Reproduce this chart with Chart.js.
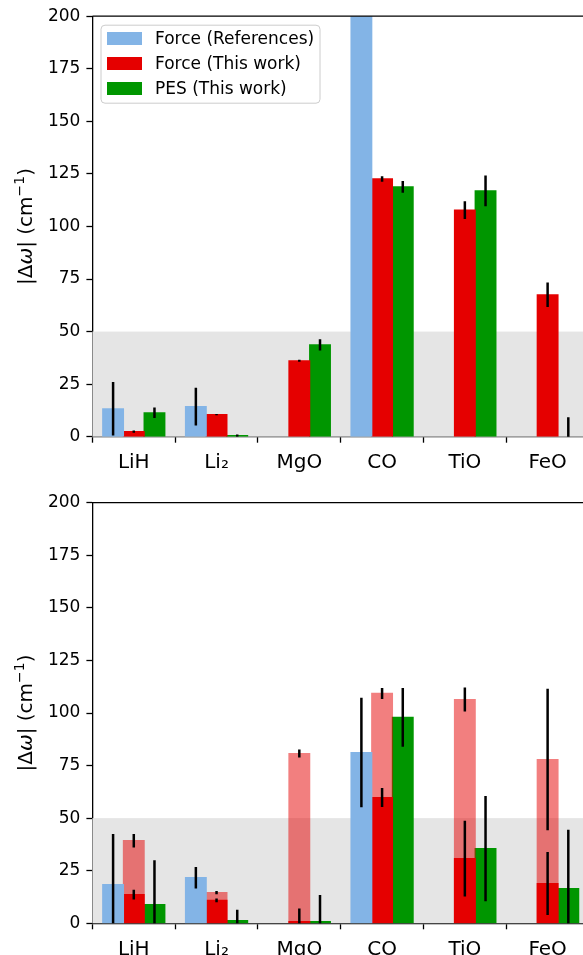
<!DOCTYPE html>
<html>
<head>
<meta charset="utf-8">
<script src="https://cdn.jsdelivr.net/npm/chart.js@4"></script>
<style>
  html, body { margin: 0; padding: 0; background: #fff; overflow: hidden; width: 583px; height: 955px; }
  canvas { display: block; }
</style>
</head>
<body>
<canvas id="topChart" width="589" height="478"></canvas>
<canvas id="bottomChart" width="589" height="477"></canvas>
<script>
const categories = ['LiH', 'Li\u2082', 'MgO', 'CO', 'TiO', 'FeO'];
const yTicks = [0, 25, 50, 75, 100, 125, 150, 175, 200];

// top panel (null = no bar; an error with a null value is centred on 0)
const topRefVals   = [13.3, 14.3, null, 260, null, null];
const topRefErr    = [12.7, 9.0, null, null, null, null];
const topForceVals = [2.4, 10.5, 36.1, 122.6, 107.8, 67.5];
const topForceErr  = [0.5, 0.3, 0.5, 1.3, 4.2, 5.8];
const topPesVals   = [11.4, 0.5, 43.7, 118.8, 116.9, null];
const topPesErr    = [2.5, 0.5, 2.7, 2.8, 7.3, 9.3];

// bottom panel
const botRefVals      = [18.4, 21.7, null, 81.2, null, null];
const botRefErr       = [24.1, 5.1, null, 26.0, null, null];
const botForceVals    = [13.6, 10.9, 0.8, 59.8, 30.8, 18.9];
const botForceErr     = [2.3, 0.9, 6.2, 4.5, 18.0, 15.0];
const botForceAllVals = [39.3, 14.6, 80.7, 109.3, 106.4, 77.9];
const botForceAllErr  = [3.2, 0.8, 1.9, 2.6, 5.7, 33.6];
const botPesVals      = [8.9, 1.3, 0.8, 97.9, 35.5, 16.5];
const botPesErr       = [21.1, 5.2, 12.7, 14.0, 25.0, 28.0];

const blue = '#83b4e6', red = '#e50000', redLight = 'rgba(229,0,0,0.5)', green = '#009600';

Chart.defaults.font.family = "'DejaVu Sans', sans-serif";
Chart.defaults.color = '#000';

// shaded 0-50 band behind the bars
const band = {
  id: 'band',
  beforeDatasetsDraw(chart) {
    const {ctx, chartArea: a, scales: {y}} = chart;
    ctx.save();
    ctx.fillStyle = '#e5e5e5';
    const yTop = y.getPixelForValue(50);
    ctx.fillRect(a.left, yTop, a.right - a.left, y.getPixelForValue(0) - yTop);
    ctx.restore();
  }
};

const errorBars = {
  id: 'errorBars',
  afterDatasetsDraw(chart) {
    const {ctx, chartArea: a, scales: {y}} = chart;
    ctx.save();
    ctx.beginPath();
    ctx.rect(a.left, a.top, a.right - a.left, a.bottom - a.top);
    ctx.clip();
    ctx.strokeStyle = '#000';
    ctx.lineWidth = 2.5;
    chart.data.datasets.forEach((ds, i) => {
      if (!ds.errors) return;
      chart.getDatasetMeta(i).data.forEach((bar, j) => {
        const e = ds.errors[j];
        if (e == null) return;
        const v = ds.data[j] == null ? 0 : ds.data[j];
        ctx.beginPath();
        ctx.moveTo(bar.x, y.getPixelForValue(v - e));
        ctx.lineTo(bar.x, y.getPixelForValue(v + e));
        ctx.stroke();
      });
    });
    ctx.restore();
  }
};

const topFrame = {
  id: 'topFrame',
  afterDraw(chart) {
    const {ctx, chartArea: a} = chart;
    ctx.save();
    ctx.strokeStyle = '#000';
    ctx.lineWidth = 1.3;
    ctx.beginPath();
    ctx.moveTo(a.left, a.top);
    ctx.lineTo(a.right, a.top);
    ctx.stroke();
    ctx.restore();
  }
};

// y label with italic omega and a real superscript
const yTitle = {
  id: 'yTitle',
  afterDraw(chart) {
    const {ctx, chartArea: a} = chart;
    const F = 20;
    const norm = F + "px 'DejaVu Sans'";
    const parts = [
      { t: '|\u0394', f: norm, dy: 0 },
      { t: '\u03c9', f: 'italic ' + norm, dy: 0 },
      { t: '| (cm', f: norm, dy: 0 },
      { t: '\u22121', f: (F * 0.7) + "px 'DejaVu Sans'", dy: -F * 0.4 },
      { t: ')', f: norm, dy: 0 }
    ];
    ctx.save();
    ctx.translate(25, (a.top + a.bottom) / 2);
    ctx.rotate(-Math.PI / 2);
    ctx.textBaseline = 'alphabetic';
    let total = 0;
    parts.forEach(p => { ctx.font = p.f; p.w = ctx.measureText(p.t).width; total += p.w; });
    let x = -total / 2;
    parts.forEach(p => {
      ctx.font = p.f;
      ctx.fillText(p.t, x, F * 0.36 + p.dy);
      x += p.w;
    });
    ctx.restore();
  }
};

const legendBox = {
  id: 'legendBox',
  afterDraw(chart) {
    const {ctx, chartArea: a} = chart;
    const x = a.left + 8.6, y = a.top + 9, w = 219, h = 78;
    ctx.save();
    ctx.fillStyle = 'rgba(255,255,255,0.8)';
    ctx.strokeStyle = '#cccccc';
    ctx.lineWidth = 1;
    ctx.beginPath();
    ctx.roundRect(x, y, w, h, 4);
    ctx.fill();
    ctx.stroke();
    ctx.font = "17px 'DejaVu Sans'";
    ctx.textBaseline = 'middle';
    chart.data.datasets.forEach((ds, i) => {
      const cy = y + 13.3 + i * 25;
      ctx.fillStyle = ds.backgroundColor;
      ctx.fillRect(x + 6, cy - 6.5, 35, 13);
      ctx.fillStyle = '#000';
      ctx.fillText(ds.label, x + 54, cy + 1);
    });
    ctx.restore();
  }
};

function makeScales(xHeight) {
  return {
    x: {
      stacked: true,
      afterFit: s => { s.height = xHeight; },
      grid: { drawOnChartArea: false, drawTicks: true, tickLength: 6, tickWidth: 1.3, color: '#000' },
      border: { color: '#000', width: 1.3 },
      ticks: { font: { size: 20 }, padding: 8, maxRotation: 0 }
    },
    y: {
      stacked: false,
      min: 0, max: 200,
      afterFit: s => { s.width = 92.4; },
      afterBuildTicks: s => { s.ticks = yTicks.map(v => ({ value: v })); },
      grid: { drawOnChartArea: false, drawTicks: true, tickLength: 6, tickWidth: 1.3, color: '#000' },
      border: { color: '#000', width: 1.3 },
      ticks: { font: { size: 17 }, padding: 6 }
    }
  };
}

const common = {
  responsive: false,
  animation: false,
  categoryPercentage: 0.75,
  barPercentage: 1.0,
  inflateAmount: 0.6,
  plugins: { legend: { display: false }, tooltip: { enabled: false } }
};

new Chart(document.getElementById('topChart'), {
  type: 'bar',
  data: {
    labels: categories,
    datasets: [
      { label: 'Force (References)', data: topRefVals, errors: topRefErr, backgroundColor: blue, stack: 'ref' },
      { label: 'Force (This work)', data: topForceVals, errors: topForceErr, backgroundColor: red, stack: 'force' },
      { label: 'PES (This work)', data: topPesVals, errors: topPesErr, backgroundColor: green, stack: 'pes' }
    ]
  },
  options: Object.assign({}, common, {
    layout: { padding: { top: 16, right: 0, left: 0, bottom: 0 } },
    scales: makeScales(41.3)
  }),
  plugins: [band, errorBars, topFrame, yTitle, legendBox]
});

new Chart(document.getElementById('bottomChart'), {
  type: 'bar',
  data: {
    labels: categories,
    datasets: [
      { label: 'Force (References)', data: botRefVals, errors: botRefErr, backgroundColor: blue, stack: 'ref' },
      { label: 'Force (This work)', data: botForceVals, errors: botForceErr, backgroundColor: red, stack: 'force' },
      { label: 'Force (This work, all)', data: botForceAllVals, errors: botForceAllErr, backgroundColor: redLight, stack: 'force' },
      { label: 'PES (This work)', data: botPesVals, errors: botPesErr, backgroundColor: green, stack: 'pes' }
    ]
  },
  options: Object.assign({}, common, {
    layout: { padding: { top: 24.7, right: 0, left: 0, bottom: 0 } },
    scales: makeScales(31.7)
  }),
  plugins: [band, errorBars, topFrame, yTitle]
});
</script>
</body>
</html>
